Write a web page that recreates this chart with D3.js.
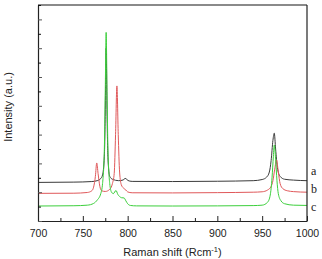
<!DOCTYPE html>
<html><head><meta charset="utf-8">
<script src="https://cdn.jsdelivr.net/npm/d3@7"></script>
<style>html,body{margin:0;padding:0;background:#fff;}svg{display:block;}</style>
</head><body>
<script>
// Raman shift (cm-1) and intensity (a.u.)
const seriesNames = ["a", "b", "c"];
const seriesColors = ["#3a3a3a", "#e0585a", "#3ccf3c"];
const shiftA = [700, 740, 760, 766, 770, 772, 774, 775, 776, 777, 778, 780, 783, 790, 795, 797, 798, 800, 805, 850, 900, 940, 950, 955, 958, 960, 962, 963.5, 965, 967, 970, 975, 985, 1000];
const intA   = [2.68, 2.70, 2.74, 2.8, 2.95, 3.2, 4.5, 7.5, 12.0, 7.5, 4.4, 3.1, 2.9, 2.8, 2.85, 2.95, 2.95, 2.82, 2.75, 2.74, 2.76, 2.8, 2.88, 3.05, 3.4, 4.2, 5.6, 6.1, 5.0, 3.7, 3.1, 2.9, 2.84, 2.8];
const shiftB = [700, 740, 755, 760, 762, 764, 765.5, 767, 769, 771, 775, 780, 783, 785, 786.5, 788, 789.5, 791, 793, 796, 798, 800, 805, 850, 900, 940, 950, 956, 960, 962, 964, 966, 968, 970, 973, 978, 985, 1000];
const intB   = [1.92, 1.93, 1.98, 2.1, 2.35, 3.1, 4.03, 3.3, 2.4, 2.1, 2.05, 2.2, 2.6, 3.3, 6.0, 9.38, 6.0, 3.4, 2.5, 2.25, 2.15, 2.02, 1.96, 1.95, 1.97, 2.0, 2.03, 2.15, 2.4, 2.8, 3.6, 4.24, 3.4, 2.6, 2.25, 2.1, 2.04, 2.0];
const shiftC = [700, 740, 755, 762, 766, 770, 772, 774, 775, 776, 777, 778, 780, 782, 784, 787, 789, 791, 793, 796, 798, 800, 803, 810, 850, 900, 940, 950, 956, 959, 961, 962.5, 963.5, 965, 966.5, 968, 971, 975, 985, 1000];
const intC   = [1.04, 1.06, 1.1, 1.22, 1.45, 1.9, 2.6, 5.0, 9.0, 13.1, 9.0, 5.0, 2.6, 2.0, 1.9, 2.12, 1.85, 1.7, 1.62, 1.6, 1.4, 1.2, 1.08, 1.05, 1.04, 1.05, 1.07, 1.1, 1.3, 1.8, 3.0, 4.5, 5.28, 4.3, 2.8, 1.9, 1.4, 1.2, 1.1, 1.08];
const xTicks = [700, 750, 800, 850, 900, 950, 1000];
const xMinorTicks = [725, 775, 825, 875, 925, 975];
const yTicks = d3.range(0, 16);

const W = 322, H = 259;
const L = 38, R = 307, T = 5, B = 221;
const svg = d3.select("body").append("svg").attr("width", W).attr("height", H);

const x = d3.scaleLinear().domain([700, 1000]).range([L, R]);
const y = d3.scaleLinear().domain([0, 15]).range([B, T]);

const data = [
  shiftA.map((s, i) => [s, intA[i]]),
  shiftB.map((s, i) => [s, intB[i]]),
  shiftC.map((s, i) => [s, intC[i]])
];

const line = d3.line().x(d => x(d[0])).y(d => y(d[1])).curve(d3.curveMonotoneX);
svg.append("g").selectAll("path").data(data).join("path")
  .attr("d", line).attr("fill", "none")
  .attr("stroke", (d, i) => seriesColors[i]).attr("stroke-width", 1);

// frame
svg.append("line").attr("x1", L).attr("x2", R).attr("y1", T).attr("y2", T).attr("stroke", "#8a8a8a").attr("stroke-width", 2);
svg.append("line").attr("x1", R).attr("x2", R).attr("y1", T).attr("y2", B).attr("stroke", "#222").attr("stroke-width", 1.2);

// x axis
const xAxis = svg.append("g").attr("transform", `translate(0,${B})`)
  .call(d3.axisBottom(x).tickValues(xTicks).tickSizeInner(-5).tickSizeOuter(0).tickPadding(9).tickFormat(d3.format("d")));
xAxis.select(".domain").attr("stroke", "#222").attr("stroke-width", 1.2);
xAxis.selectAll(".tick line").attr("stroke", "#222");
xAxis.selectAll("text").attr("font-family", "Liberation Sans, Arial, sans-serif").attr("font-size", 10.5).attr("fill", "#222");
svg.append("g").attr("transform", `translate(0,${B})`)
  .call(d3.axisBottom(x).tickValues(xMinorTicks).tickSizeInner(-3).tickSizeOuter(0).tickFormat(""))
  .call(g => g.select(".domain").remove())
  .selectAll(".tick line").attr("stroke", "#222");

// y axis (no labels)
const yAxis = svg.append("g").attr("transform", `translate(${L},0)`)
  .call(d3.axisLeft(y).tickValues(yTicks).tickSizeInner(0).tickSizeOuter(0).tickFormat(""));
yAxis.select(".domain").attr("stroke", "#222").attr("stroke-width", 1.2);
yAxis.selectAll(".tick line").attr("x2", (d) => d % 2 === 0 ? 4 : 3).attr("stroke", (d) => d % 2 === 0 ? "#555" : "#111");

// axis titles
const xt = svg.append("text").attr("x", (L + R) / 2).attr("y", 256).attr("text-anchor", "middle")
  .attr("font-family", "Liberation Sans, Arial, sans-serif").attr("font-size", 11).attr("fill", "#222");
xt.append("tspan").text("Raman shift (Rcm");
xt.append("tspan").attr("dy", -4).attr("font-size", 7.5).text("-1");
xt.append("tspan").attr("dy", 4).text(")");

svg.append("text").attr("transform", `translate(12,${(T + B) / 2 - 6}) rotate(-90)`).attr("text-anchor", "middle")
  .attr("font-family", "Liberation Sans, Arial, sans-serif").attr("font-size", 11).attr("fill", "#222")
  .text("Intensity (a.u.)");

// series labels
const labelY = [171, 189, 207];
svg.append("g").selectAll("text").data(seriesNames).join("text")
  .attr("x", 311).attr("y", (d, i) => labelY[i] + 4)
  .attr("font-family", "Liberation Serif, Times New Roman, serif").attr("font-size", 12).attr("fill", "#222")
  .text(d => d);
</script>
</body></html>
